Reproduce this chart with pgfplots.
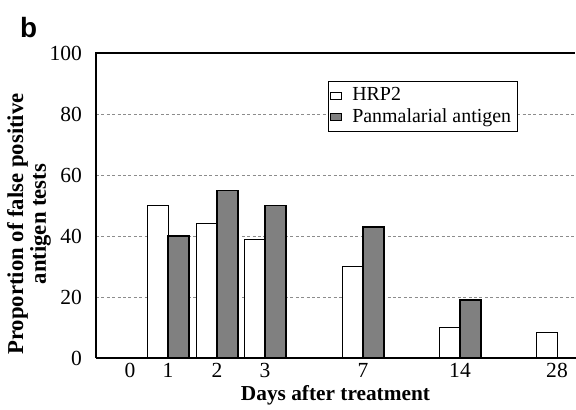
\documentclass[border=0pt]{standalone}
\usepackage{fontspec}
\setmainfont{Liberation Serif}
\newfontfamily\sansfont{Liberation Sans}
\usepackage{pgfplots}
\pgfplotsset{compat=1.18}
\begin{document}
\begin{tikzpicture}
\begin{axis}[
  at={(0,0)}, anchor=south west,
  scale only axis, width=239.5bp, height=152.5bp,
  xmin=96, xmax=575, ymin=0, ymax=100,
  clip=false,
  axis line style={draw=none},
  xtick={130,168,217,265,363,460,557},
  xticklabels={0,1,2,3,7,14,28},
  ytick={0,20,40,60,80,100},
  major tick length=0,
  ymajorgrids,
  grid style={black!45, line width=0.4bp, dash pattern=on 1.5bp off 1.2bp},
  tick label style={font=\fontsize{10.8}{12}\selectfont},
  /pgf/number format/assume math mode=true,
  yticklabel style={xshift=-3.5bp},
  xticklabel style={anchor=base, yshift=-9.5bp},
  xlabel={Days after treatment},
  xlabel style={font=\fontsize{10.7}{12}\selectfont\bfseries, at={(rel axis cs:0.5,0)}, anchor=base, yshift=-21bp},
  legend style={font=\fontsize{10}{10}\selectfont, draw=black, line width=0.5bp, inner sep=1pt, row sep=-1.5pt,
    at={(rel axis cs:0.484,0.908)}, anchor=north west, cells={anchor=west},
    /tikz/every odd column/.style={column sep=3bp},
    /tikz/every even column/.style={column sep=6bp}},
  legend image code/.code={\draw[#1, line width=0.5bp] (-2bp,-1.8bp) rectangle (3.5bp,1.8bp);},
]
\addplot[ybar, bar width=21, bar shift=-10.5, fill=white, draw=black, line width=0.5bp]
  coordinates {(168,50) (217,44) (265,39) (363,30) (460,10) (557,8.5)};
\addplot[ybar, bar width=21, bar shift=10.5, fill=black!50, draw=black, line width=0.7bp]
  coordinates {(168,40) (217,55) (265,50) (363,43) (460,19) (557,0)};
\legend{HRP2, Panmalarial antigen}
\draw[line width=0.6bp] (rel axis cs:0,0) -- (rel axis cs:0,1) -- (rel axis cs:1,1);
\draw[line width=0.6bp] (rel axis cs:0,0) -- (rel axis cs:1,0);
\end{axis}
\node[rotate=90, align=center, font=\fontsize{11.4}{8.8}\selectfont\bfseries] at (-33.5bp,67bp)
  {Proportion of false positive\\antigen tests};
\node[anchor=base west, font=\sansfont\bfseries\fontsize{14}{14}\selectfont] at (-41.5bp,160bp) {b};
\pgfresetboundingbox
\path[use as bounding box] (-48bp,-26bp) rectangle (240bp,179bp);
\end{tikzpicture}
\end{document}
